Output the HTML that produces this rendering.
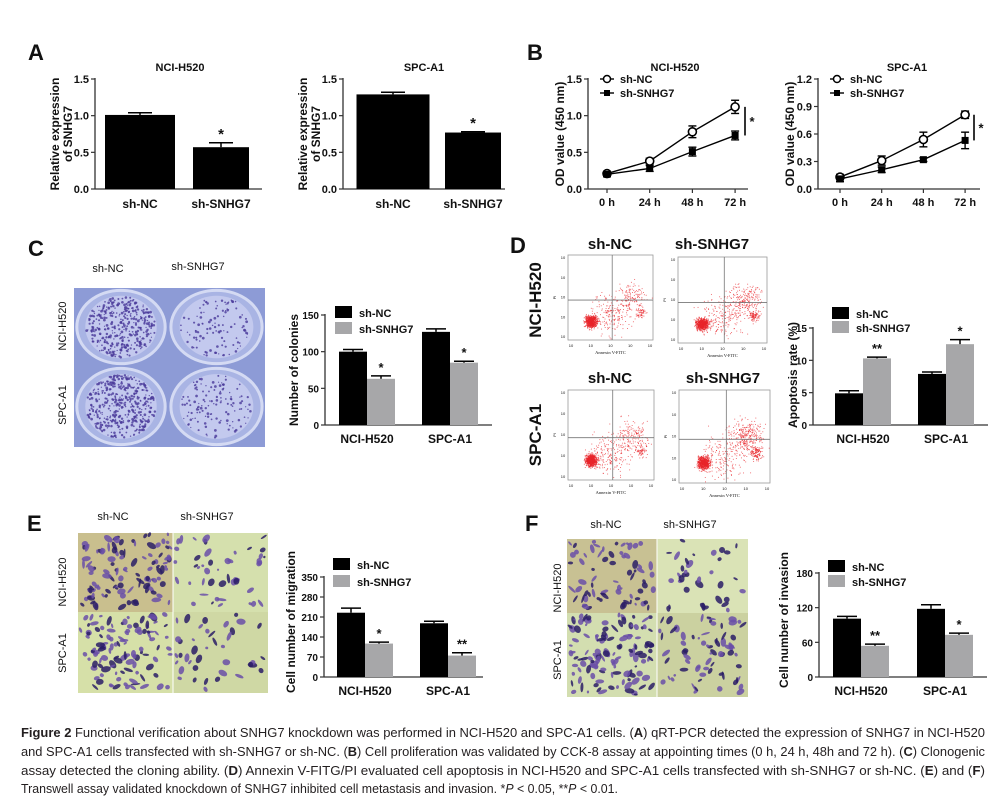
<!DOCTYPE html>
<html><head><meta charset="utf-8"><style>
html,body{margin:0;padding:0;background:#fff;}
svg{display:block;font-family:"Liberation Sans",Arial,sans-serif;}
</style></head><body>
<svg id="fig" width="1006" height="802" viewBox="0 0 1006 802" xmlns="http://www.w3.org/2000/svg"></svg>
<script>
// ---------- DATA ----------
const groupsAB = ["sh-NC","sh-SNHG7"];
const cellLines = ["NCI-H520","SPC-A1"];
const timePoints = ["0 h","24 h","48 h","72 h"];
// Panel A
const aH520Values = [1.01, 0.57];
const aH520Errors = [0.03, 0.06];
const aSpcValues = [1.29, 0.77];
const aSpcErrors = [0.03, 0.01];
const aTicks = [0, 0.5, 1.0, 1.5];
const aTickLabels = ["0.0","0.5","1.0","1.5"];
const aStars = ["", "*"];
// Panel B
const bH520Nc = [0.21, 0.38, 0.78, 1.12];
const bH520NcErr = [0.03, 0.04, 0.08, 0.09];
const bH520Sh = [0.20, 0.28, 0.51, 0.73];
const bH520ShErr = [0.03, 0.04, 0.06, 0.06];
const bH520Ticks = [0, 0.5, 1.0, 1.5];
const bH520TickLabels = ["0.0","0.5","1.0","1.5"];
const bSpcNc = [0.13, 0.31, 0.54, 0.81];
const bSpcNcErr = [0.03, 0.05, 0.08, 0.04];
const bSpcSh = [0.11, 0.21, 0.32, 0.53];
const bSpcShErr = [0.03, 0.03, 0.02, 0.09];
const bSpcTicks = [0, 0.3, 0.6, 0.9, 1.2];
const bSpcTickLabels = ["0.0","0.3","0.6","0.9","1.2"];
// Panel C
const cNc = [100, 127];
const cNcErr = [3, 4];
const cSh = [63, 85];
const cShErr = [4, 2];
const cTicks = [0, 50, 100, 150];
const cStars = ["*", "*"];
// Panel D
const dNc = [4.9, 7.9];
const dNcErr = [0.4, 0.3];
const dSh = [10.3, 12.5];
const dShErr = [0.2, 0.7];
const dTicks = [0, 5, 10, 15];
const dStars = ["**", "*"];
// Panel E
const eNc = [225, 188];
const eNcErr = [16, 7];
const eSh = [117, 75];
const eShErr = [5, 10];
const eTicks = [0, 70, 140, 210, 280, 350];
const eStars = ["*", "**"];
// Panel F
const fNc = [101, 118];
const fNcErr = [4, 7];
const fSh = [54, 73];
const fShErr = [3, 3];
const fTicks = [0, 60, 120, 180];
const fStars = ["**", "*"];

// ---------- HELPERS ----------
const svg = document.getElementById('fig');
const NS = "http://www.w3.org/2000/svg";
function mk(parent, tag, attrs, name) {
  const el = document.createElementNS(NS, tag);
  for (const k in attrs) el.setAttribute(k, attrs[k]);
  
  
  parent.appendChild(el);
  return el;
}
function txt(parent, x, y, s, name, opts) {
  opts = opts || {};
  const a = {x:x, y:y, 'font-size':opts.size||11, 'font-weight':opts.weight||'bold', fill:opts.fill||'#111', 'text-anchor':opts.anchor||'middle'};
  if (opts.rot) a.transform = 'rotate(-90 '+x+' '+y+')';
  if (opts.family) a['font-family'] = opts.family;
  const t = mk(parent, 'text', a, name);
  t.textContent = s;
  return t;
}
function group(name) { return mk(svg, 'g', {}, name); }
let seed = 12345;
function rnd() { seed = (seed * 1103515245 + 12345) % 2147483648; return seed / 2147483648; }
function gauss() { return (rnd()+rnd()+rnd()+rnd()-2)/1.2; }

function yAxis(g, ax, y0, yTop, max, ticks, labels, fs) {
  const ys = v => y0 - v / max * (y0 - yTop);
  mk(g, 'line', {x1:ax, y1:ys(max)-1, x2:ax, y2:y0, stroke:'#333', 'stroke-width':1.3}, 'y-axis-line');
  ticks.forEach((v,i) => {
    mk(g, 'line', {x1:ax-4, y1:ys(v), x2:ax, y2:ys(v), stroke:'#333', 'stroke-width':1.2}, 'y-tick');
    txt(g, ax-6, ys(v)+4, labels ? labels[i] : String(v), 'y-tick-label', {anchor:'end', size:fs||11});
  });
  return ys;
}
function errBar(g, cx, yv, ye, half, name) {
  mk(g, 'line', {x1:cx, y1:yv, x2:cx, y2:ye, stroke:'#000', 'stroke-width':1.5}, name);
  mk(g, 'line', {x1:cx-half, y1:ye, x2:cx+half, y2:ye, stroke:'#000', 'stroke-width':1.5}, name+'-cap');
}

// Simple two-bar chart (panel A)
function simpleBar(name, cfg) {
  const g = group(name);
  txt(g, cfg.titleX, 71, cfg.title, 'chart-title', {size:11});
  cfg.yTitle.forEach((l,i) => txt(g, cfg.ax - 36 + i*13, 134, l, 'y-axis-title', {rot:true, size:12}));
  const ys = yAxis(g, cfg.ax, 189, 79, 1.5, aTicks, aTickLabels);
  mk(g, 'line', {x1:cfg.ax, y1:189, x2:cfg.axEnd, y2:189, stroke:'#333', 'stroke-width':1.3}, 'x-axis-line');
  cfg.values.forEach((v,i) => {
    const cx = cfg.c0 + i*cfg.step;
    const w = i===0 ? cfg.w0 : cfg.w1;
    mk(g, 'rect', {x:cx-w/2, y:ys(v), width:w, height:189-ys(v), fill:'#000'}, 'bar-'+groupsAB[i]);
    errBar(g, cx, ys(v), ys(v+cfg.errs[i]), 12, 'error-bar');
    if (aStars[i]) txt(g, cx, ys(v+cfg.errs[i])-4, aStars[i], 'significance-star', {size:15, weight:'bold'});
    txt(g, cx, 208, groupsAB[i], 'x-tick-label', {size:12});
  });
}

// Grouped bar chart
function groupedBar(name, cfg) {
  const g = group(name);
  const ys = yAxis(g, cfg.ax, cfg.y0, cfg.yTop, cfg.max, cfg.ticks, null, 10);
  mk(g, 'line', {x1:cfg.ax, y1:cfg.y0, x2:cfg.axEnd, y2:cfg.y0, stroke:'#333', 'stroke-width':1.3}, 'x-axis-line');
  txt(g, cfg.titleX, cfg.titleY, cfg.yTitle, 'y-axis-title', {rot:true, size:12});
  const w = cfg.bw;
  cellLines.forEach((c,i) => {
    const gc = cfg.c0 + i*cfg.step;
    const nv = cfg.nc[i], sv = cfg.sh[i];
    mk(g, 'rect', {x:gc-w, y:ys(nv), width:w, height:cfg.y0-ys(nv), fill:'#000'}, 'bar-sh-nc-'+c);
    errBar(g, gc-w/2, ys(nv), ys(nv+cfg.ncErr[i]), 10, 'error-bar');
    mk(g, 'rect', {x:gc, y:ys(sv), width:w, height:cfg.y0-ys(sv), fill:'#a7a7a9'}, 'bar-sh-snhg7-'+c);
    errBar(g, gc+w/2, ys(sv), ys(sv+cfg.shErr[i]), 10, 'error-bar');
    txt(g, gc+w/2, ys(sv+cfg.shErr[i])-4, cfg.stars[i], 'significance-star', {size:13, weight:'bold'});
    txt(g, gc, cfg.y0+18, c, 'x-tick-label', {size:12});
  });
  // legend
  mk(g, 'rect', {x:cfg.lx, y:cfg.ly-7, width:17, height:12, fill:'#000'}, 'legend-swatch-sh-nc');
  txt(g, cfg.lx+24, cfg.ly+4, 'sh-NC', 'legend-entry', {anchor:'start', size:11});
  mk(g, 'rect', {x:cfg.lx, y:cfg.ly+cfg.lgap-7, width:17, height:12, fill:'#a7a7a9'}, 'legend-swatch-sh-snhg7');
  txt(g, cfg.lx+24, cfg.ly+cfg.lgap+4, 'sh-SNHG7', 'legend-entry', {anchor:'start', size:11});
}

// Line chart (panel B)
function lineChart(name, cfg) {
  const g = group(name);
  txt(g, cfg.titleX, 71, cfg.title, 'chart-title', {size:11});
  txt(g, cfg.ax-24, 134, 'OD value (450 nm)', 'y-axis-title', {rot:true, size:12});
  const ys = yAxis(g, cfg.ax, 189, 79, cfg.max, cfg.ticks, cfg.tickLabels);
  mk(g, 'line', {x1:cfg.ax, y1:189, x2:cfg.axEnd, y2:189, stroke:'#333', 'stroke-width':1.3}, 'x-axis-line');
  const xs = i => cfg.x0 + i*cfg.step;
  timePoints.forEach((t,i) => {
    mk(g, 'line', {x1:xs(i), y1:189, x2:xs(i), y2:193, stroke:'#333', 'stroke-width':1.2}, 'x-tick');
    txt(g, xs(i), 206, t, 'x-tick-label', {size:11});
  });
  const series = [[cfg.nc, cfg.ncErr, 'sh-nc'], [cfg.sh, cfg.shErr, 'sh-snhg7']];
  series.forEach(([vals, errs, nm]) => {
    mk(g, 'polyline', {points: vals.map((v,i)=>xs(i)+','+ys(v)).join(' '), fill:'none', stroke:'#000', 'stroke-width':1.4}, 'line-'+nm);
    vals.forEach((v,i) => {
      mk(g, 'line', {x1:xs(i), y1:ys(v-errs[i]), x2:xs(i), y2:ys(v+errs[i]), stroke:'#000', 'stroke-width':1.4}, 'error-bar');
      mk(g, 'line', {x1:xs(i)-4, y1:ys(v+errs[i]), x2:xs(i)+4, y2:ys(v+errs[i]), stroke:'#000', 'stroke-width':1.4}, 'error-cap');
      mk(g, 'line', {x1:xs(i)-4, y1:ys(v-errs[i]), x2:xs(i)+4, y2:ys(v-errs[i]), stroke:'#000', 'stroke-width':1.4}, 'error-cap');
      if (nm === 'sh-nc') mk(g, 'circle', {cx:xs(i), cy:ys(v), r:4, fill:'#fff', stroke:'#000', 'stroke-width':1.6}, 'point-sh-nc');
      else mk(g, 'rect', {x:xs(i)-3.5, y:ys(v)-3.5, width:7, height:7, fill:'#000'}, 'point-sh-snhg7');
    });
  });
  const last = timePoints.length-1;
  mk(g, 'line', {x1:cfg.sigX, y1:ys(cfg.nc[last]), x2:cfg.sigX, y2:ys(cfg.sh[last]), stroke:'#000', 'stroke-width':1.6}, 'significance-bracket');
  txt(g, cfg.sigX+7, (ys(cfg.nc[last])+ys(cfg.sh[last]))/2+5, '*', 'significance-star', {size:13});
  // legend
  const lx = cfg.ax + 12;
  mk(g, 'line', {x1:lx, y1:79, x2:lx+14, y2:79, stroke:'#000', 'stroke-width':1.4}, 'legend-line-sh-nc');
  mk(g, 'circle', {cx:lx+7, cy:79, r:3.5, fill:'#fff', stroke:'#000', 'stroke-width':1.5}, 'legend-marker-sh-nc');
  txt(g, lx+20, 83, 'sh-NC', 'legend-entry', {anchor:'start', size:11});
  mk(g, 'line', {x1:lx, y1:93, x2:lx+14, y2:93, stroke:'#000', 'stroke-width':1.4}, 'legend-line-sh-snhg7');
  mk(g, 'rect', {x:lx+4, y:90, width:6, height:6, fill:'#000'}, 'legend-marker-sh-snhg7');
  txt(g, lx+20, 97, 'sh-SNHG7', 'legend-entry', {anchor:'start', size:11});
}

// ---------- PANEL LABELS ----------
[['A',28,60],['B',527,60],['C',28,256],['D',510,253],['E',27,531],['F',525,531]].forEach(([l,x,y]) => {
  txt(svg, x, y, l, 'panel-label-'+l.toLowerCase(), {anchor:'start', size:22});
});

// ---------- PANEL A ----------
simpleBar('chart-a-nci-h520', {ax:95, axEnd:262, title:'NCI-H520', titleX:180, yTitle:['Relative expression','of SNHG7'], c0:140, step:81, w0:70, w1:56, values:aH520Values, errs:aH520Errors});
simpleBar('chart-a-spc-a1', {ax:343, axEnd:505, title:'SPC-A1', titleX:424, yTitle:['Relative expression','of SNHG7'], c0:393, step:80, w0:73, w1:56, values:aSpcValues, errs:aSpcErrors});

// ---------- PANEL B ----------
lineChart('chart-b-nci-h520', {ax:588, axEnd:748, title:'NCI-H520', titleX:675, max:1.5, ticks:bH520Ticks, tickLabels:bH520TickLabels, x0:607, step:42.7, nc:bH520Nc, ncErr:bH520NcErr, sh:bH520Sh, shErr:bH520ShErr, sigX:745});
lineChart('chart-b-spc-a1', {ax:818, axEnd:980, title:'SPC-A1', titleX:907, max:1.2, ticks:bSpcTicks, tickLabels:bSpcTickLabels, x0:840, step:41.7, nc:bSpcNc, ncErr:bSpcNcErr, sh:bSpcSh, shErr:bSpcShErr, sigX:974});

// ---------- PANEL C photo ----------
(function(){
  const g = group('colony-plates-image');
  txt(g, 108, 272, 'sh-NC', 'column-label', {size:11, weight:'normal'});
  txt(g, 198, 270, 'sh-SNHG7', 'column-label', {size:11, weight:'normal'});
  txt(g, 66, 326, 'NCI-H520', 'row-label', {rot:true, size:11, weight:'normal'});
  txt(g, 66, 405, 'SPC-A1', 'row-label', {rot:true, size:11, weight:'normal'});
  const cells = [[74,288,94,78,380],[168,288,97,78,110],[74,366,94,81,420],[168,366,97,81,130]];
  cells.forEach(([x,y,w,h,n],k) => {
    mk(g, 'rect', {x:x, y:y, width:w, height:h, fill:'#8d9bd6'}, 'plate-well');
    mk(g, 'ellipse', {cx:x+w/2, cy:y+h/2, rx:w*0.47, ry:h*0.47, fill:'#a9b4e4', stroke:'#d4daf3', 'stroke-width':3}, 'plate-rim');
    mk(g, 'ellipse', {cx:x+w/2, cy:y+h/2, rx:w*0.38, ry:h*0.4, fill:'#c3c9ee'}, 'plate-dish');
    for (let i=0;i<n;i++){
      const a = rnd()*6.283, r = Math.sqrt(rnd());
      mk(g, 'circle', {cx:x+w/2+Math.cos(a)*r*w*0.37, cy:y+h/2+Math.sin(a)*r*h*0.39, r:0.6+rnd()*0.8, fill:'#4a3a9a', opacity:0.8}, 'colony');
    }
  });
})();
groupedBar('chart-c-colonies', {ax:325, axEnd:492, y0:425, yTop:315, max:150, ticks:cTicks, c0:367, step:83, bw:28, nc:cNc, ncErr:cNcErr, sh:cSh, shErr:cShErr, stars:cStars, lx:335, ly:313, lgap:16, yTitle:'Number of colonies', titleX:298, titleY:370});

// ---------- PANEL D flow plots ----------
(function(){
  const g = group('flow-cytometry-plots');
  txt(g, 610, 249, 'sh-NC', 'column-label', {size:15});
  txt(g, 712, 249, 'sh-SNHG7', 'column-label', {size:15});
  txt(g, 610, 383, 'sh-NC', 'column-label', {size:15});
  txt(g, 723, 383, 'sh-SNHG7', 'column-label', {size:15});
  txt(g, 541, 300, 'NCI-H520', 'row-label', {rot:true, size:17});
  txt(g, 541, 435, 'SPC-A1', 'row-label', {rot:true, size:17});
  const plots = [[568,255,85,85,0.6],[678,257,89,86,1],[568,390,86,90,0.7],[679,390,91,93,1.3]];
  plots.forEach(([x,y,w,h,dens]) => {
    mk(g, 'rect', {x:x, y:y, width:w, height:h, fill:'#fff', stroke:'#999', 'stroke-width':0.8}, 'flow-plot-frame');
    const cl = [[0.27,0.78,0.07,700],[0.85,0.68,0.07,90*dens],[0.75,0.5,0.18,220*dens],[0.5,0.7,0.25,200]];
    cl.forEach(([cx,cy,s,n]) => {
      for (let i=0;i<n;i++){
        const px = x + w*(cx + gauss()*s), py = y + h*(cy + gauss()*s);
        if (px<x+1||px>x+w-1||py<y+1||py>y+h-1) continue;
        mk(g, 'rect', {x:px, y:py, width:0.9, height:0.9, fill:'#e8262b', opacity:0.75}, 'event-dot');
      }
    });
    mk(g, 'line', {x1:x+w*0.52, y1:y, x2:x+w*0.52, y2:y+h, stroke:'#777', 'stroke-width':0.8}, 'quadrant-line');
    mk(g, 'line', {x1:x, y1:y+h*0.53, x2:x+w, y2:y+h*0.53, stroke:'#777', 'stroke-width':0.8}, 'quadrant-line');
    txt(g, x+w/2, y+h+14, 'Annexin V-FITC', 'x-axis-title', {size:4.5, weight:'normal', family:'Liberation Serif'});
    for (let i=0;i<5;i++) {
      txt(g, x+3+i*(w-6)/4, y+h+7, '10', 'x-tick-label', {size:4, weight:'normal'});
      txt(g, x-5, y+h-2-i*(h-6)/4, '10', 'y-tick-label', {size:4, weight:'normal'});
    }
    txt(g, x-12, y+h/2, 'PI', 'y-axis-title', {size:4, weight:'normal', rot:true});
  });
})();
groupedBar('chart-d-apoptosis', {ax:813, axEnd:988, y0:425, yTop:328, max:15, ticks:dTicks, c0:863, step:83, bw:28, nc:dNc, ncErr:dNcErr, sh:dSh, shErr:dShErr, stars:dStars, lx:832, ly:314, lgap:14, yTitle:'Apoptosis rate (%)', titleX:797, titleY:375});

// ---------- PANEL E/F microscopy ----------
function cellImage(name, x0, x1, xs, y0, y1, ysp, labX, colXs, labY, rowYs, bgs, counts) {
  const g = group(name);
  txt(g, colXs[0], labY, 'sh-NC', 'column-label', {size:11, weight:'normal'});
  txt(g, colXs[1], labY, 'sh-SNHG7', 'column-label', {size:11, weight:'normal'});
  txt(g, labX, rowYs[0], 'NCI-H520', 'row-label', {rot:true, size:11, weight:'normal'});
  txt(g, labX, rowYs[1], 'SPC-A1', 'row-label', {rot:true, size:11, weight:'normal'});
  const quads = [[x0,y0,xs,ysp],[xs,y0,x1,ysp],[x0,ysp,xs,y1],[xs,ysp,x1,y1]];
  quads.forEach(([a,b,c,d],k) => {
    mk(g, 'rect', {x:a, y:b, width:c-a, height:d-b, fill:bgs[k]}, 'micrograph');
    for (let i=0;i<counts[k];i++){
      const rx = 1+rnd()*4, ry = 1+rnd()*2.2;
      const cx = a+rx+rnd()*(c-a-2*rx), cy = b+rx+rnd()*(d-b-2*rx);
      mk(g, 'ellipse', {cx:cx, cy:cy, rx:rx, ry:ry, transform:'rotate('+(rnd()*180)+' '+cx+' '+cy+')', fill: rnd()<0.4?'#2a1d66':'#6a4fa8', opacity:0.85}, 'stained-cell');
    }
  });
  mk(g, 'line', {x1:xs, y1:y0, x2:xs, y2:y1, stroke:'#fff', 'stroke-width':1}, 'image-divider');
}
cellImage('migration-images', 78, 268, 173, 533, 693, 612, 66, [113,207], 520, [582,653], ['#c9bf8e','#d5e0ad','#d6e0a8','#cfd8a4'], [110,45,110,40]);
cellImage('invasion-images', 567, 748, 657, 539, 697, 613, 561, [606,690], 528, [588,660], ['#c8c193','#dae3b6','#d3deb0','#cbd1a0'], [70,35,120,70]);

groupedBar('chart-e-migration', {ax:324, axEnd:483, y0:677, yTop:577, max:350, ticks:eTicks, c0:365, step:83, bw:28, nc:eNc, ncErr:eNcErr, sh:eSh, shErr:eShErr, stars:eStars, lx:333, ly:565, lgap:17, yTitle:'Cell number of migration', titleX:295, titleY:622});
groupedBar('chart-f-invasion', {ax:819, axEnd:987, y0:677, yTop:573, max:180, ticks:fTicks, c0:861, step:84, bw:28, nc:fNc, ncErr:fNcErr, sh:fSh, shErr:fShErr, stars:fStars, lx:828, ly:567, lgap:15, yTitle:'Cell number of invasion', titleX:788, titleY:620});

// ---------- CAPTION ----------
(function(){
  const g = group('figure-caption');
  const lines = [
    [[1,'Figure 2'],[0,' Functional verification about SNHG7 knockdown was performed in NCI-H520 and SPC-A1 cells. ('],[1,'A'],[0,') qRT-PCR detected the expression of SNHG7 in NCI-H520']],
    [[0,'and SPC-A1 cells transfected with sh-SNHG7 or sh-NC. ('],[1,'B'],[0,') Cell proliferation was validated by CCK-8 assay at appointing times (0 h, 24 h, 48h and 72 h). ('],[1,'C'],[0,') Clonogenic']],
    [[0,'assay detected the cloning ability. ('],[1,'D'],[0,') Annexin V-FITG/PI evaluated cell apoptosis in NCI-H520 and SPC-A1 cells transfected with sh-SNHG7 or sh-NC. ('],[1,'E'],[0,') and ('],[1,'F'],[0,')']],
    [[0,'Transwell assay validated knockdown of SNHG7 inhibited cell metastasis and invasion. *'],[2,'P'],[0,' < 0.05, **'],[2,'P'],[0,' < 0.01.']]
  ];
  const ys = [737, 756, 775, 793];
  const lens = [964, 964, 964, 597];
  lines.forEach((parts, i) => {
    const t = mk(g, 'text', {x:21, y:ys[i], 'font-size':12.5, fill:'#231f20', textLength:lens[i], lengthAdjust:'spacingAndGlyphs'}, 'caption-line');
    parts.forEach(([b,s]) => {
      const sp = mk(t, 'tspan', {'font-weight': b===1?'bold':'normal', 'font-style': b===2?'italic':'normal'}, 'caption-text');
      sp.textContent = s;
    });
  });
})();
</script>
</body></html>
